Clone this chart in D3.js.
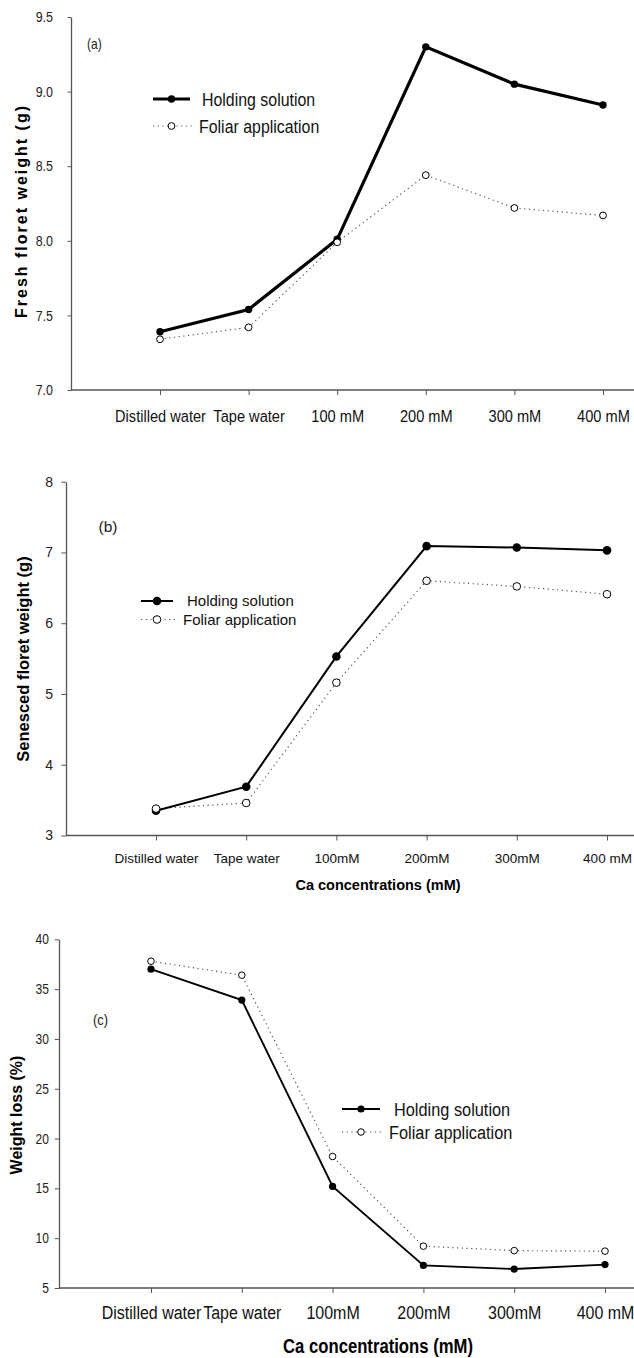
<!DOCTYPE html>
<html>
<head>
<meta charset="utf-8">
<script src="https://cdn.jsdelivr.net/npm/d3@7"></script>
<style>
  body { margin: 0; background: #fff; }
  svg { display: block; }
</style>
</head>
<body>
<div id="chart"></div>
<script>
// data
var categories = ['dw', 'tw', '100', '200', '300', '400'];
var labels_a = ['Distilled water', 'Tape water', '100 mM', '200 mM', '300 mM', '400 mM'];
var labels_bc = ['Distilled water', 'Tape water', '100mM', '200mM', '300mM', '400 mM'];

var fresh_holding = [7.39, 7.54, 8.01, 9.30, 9.05, 8.91];
var fresh_foliar = [7.34, 7.42, 7.99, 8.44, 8.22, 8.17];
var fresh_ticks = [7.0, 7.5, 8.0, 8.5, 9.0, 9.5];

var senesced_holding = [3.35, 3.69, 5.53, 7.09, 7.07, 7.03];
var senesced_foliar = [3.38, 3.46, 5.16, 6.60, 6.52, 6.41];
var senesced_ticks = [3, 4, 5, 6, 7, 8];

var loss_holding = [37.0, 33.9, 15.2, 7.27, 6.9, 7.35];
var loss_foliar = [37.8, 36.4, 18.2, 9.2, 8.75, 8.7];
var loss_ticks = [5, 10, 15, 20, 25, 30, 35, 40];

var series_names = ['Holding solution', 'Foliar application'];

var W = 634, H = 1358;
var FONT = '"Liberation Sans", Arial, sans-serif';
var NARROW = 0.86;  // horizontal squeeze to mimic Arial Narrow

var svg = d3.select('#chart').append('svg')
    .attr('width', W).attr('height', H)
    .style('font-family', FONT);

// squeeze a text horizontally around its own anchor
function squeeze(sel, s) {
    if (s === 1) return;
    sel.each(function() {
        var t = d3.select(this);
        var x = +t.attr('x') || 0;
        t.attr('x', x / s).attr('transform', `scale(${s},1)`);
    });
}

function label(g, x, y, txt, size, s, opts) {
    opts = opts || {};
    var t = g.append('g').attr('transform', `translate(${x},${y})`)
        .append('text')
        .attr('text-anchor', opts.anchor || 'start')
        .attr('dy', opts.dy || 0)
        .style('font-size', size + 'px')
        .style('font-weight', opts.bold ? 'bold' : 'normal')
        .attr('fill', opts.fill || '#111')
        .text(txt);
    if (s !== 1) t.attr('transform', `scale(${s},1)`);
    return t;
}

function drawPanel(p) {
    var g = svg.append('g');
    var x = d3.scalePoint().domain(categories).range([p.xFirst, p.xLast]);
    var y = d3.scaleLinear().domain(p.yDomain).range([p.yBot, p.yTop]);

    // y axis
    var ya = g.append('g')
        .attr('transform', `translate(${p.left},0)`)
        .call(d3.axisLeft(y).tickValues(p.ticks).tickFormat(p.fmt).tickSize(p.yTick).tickSizeOuter(0));
    ya.select('.domain').attr('stroke', '#555').attr('stroke-width', 1.3);
    ya.selectAll('.tick line').attr('stroke', '#555');
    ya.selectAll('.tick text')
        .attr('fill', '#222')
        .attr('x', -p.yLabelGap)
        .style('font-family', FONT)
        .style('font-size', p.tickSize + 'px')
        .call(squeeze, p.tickS);

    // x axis
    var xa = g.append('g')
        .attr('transform', `translate(0,${p.yBot})`)
        .call(d3.axisBottom(x).tickFormat((d, i) => p.xlabels[i]).tickSize(5).tickSizeOuter(0));
    xa.select('.domain').remove();
    xa.append('line')
        .attr('x1', p.left).attr('x2', W)
        .attr('stroke', '#555').attr('stroke-width', 1.3);
    xa.selectAll('.tick line').attr('stroke', '#555');
    xa.selectAll('.tick text')
        .attr('fill', '#111')
        .attr('y', p.xLabelY).attr('dy', 0)
        .style('font-family', FONT)
        .style('font-size', p.xSize + 'px')
        .call(squeeze, p.xS);

    var line = d3.line().x((d, i) => x(categories[i])).y(d => y(d));

    // foliar (dotted, open circles)
    g.append('path').datum(p.foliar)
        .attr('d', line)
        .attr('fill', 'none')
        .attr('stroke', '#555')
        .attr('stroke-width', 1.2)
        .attr('stroke-dasharray', '1.2,3.5');
    // holding (solid, filled)
    g.append('path').datum(p.holding)
        .attr('d', line)
        .attr('fill', 'none')
        .attr('stroke', '#000')
        .attr('stroke-width', p.lineW);

    g.selectAll('.hdot').data(p.holding).enter().append('circle')
        .attr('cx', (d, i) => x(categories[i])).attr('cy', d => y(d))
        .attr('r', p.r).attr('fill', '#000');
    g.selectAll('.fdot').data(p.foliar).enter().append('circle')
        .attr('cx', (d, i) => x(categories[i])).attr('cy', d => y(d))
        .attr('r', p.rOpen).attr('fill', '#fff')
        .attr('stroke', '#000').attr('stroke-width', 1);

    // panel letter
    label(g, p.tag[0], p.tag[1], p.tagText, p.tagSize, p.tagS, {fill: '#222'});

    // legend
    var lg = g.append('g').attr('transform', `translate(${p.leg[0]},${p.leg[1]})`);
    lg.append('line').attr('x1', 0).attr('x2', p.legLen).attr('y1', 0).attr('y2', 0)
        .attr('stroke', '#000').attr('stroke-width', p.lineW);
    lg.append('circle').attr('cx', p.legLen / 2).attr('cy', 0).attr('r', p.r).attr('fill', '#000');
    lg.append('line').attr('x1', 0).attr('x2', p.legLen + 4).attr('y1', p.legGap).attr('y2', p.legGap)
        .attr('stroke', '#555').attr('stroke-width', 1.2).attr('stroke-dasharray', '1.2,3.5');
    lg.append('circle').attr('cx', p.legLen / 2).attr('cy', p.legGap).attr('r', p.rOpen)
        .attr('fill', '#fff').attr('stroke', '#000');
    series_names.forEach(function(name, i) {
        label(lg, p.legText[i], i * p.legGap, name, p.legSize, p.legS, {dy: '0.36em'});
    });

    // y title
    g.append('text')
        .attr('transform', `translate(${p.yTitle[0]},${p.yTitle[1]}) rotate(-90)`)
        .attr('text-anchor', 'middle')
        .style('font-size', p.yTitleSize + 'px')
        .style('font-weight', 'bold')
        .style('letter-spacing', p.yTitleSpacing + 'px')
        .attr('fill', '#000')
        .text(p.yTitleText);

    if (p.xTitleText) {
        label(g, p.xTitle[0], p.xTitle[1], p.xTitleText, p.xTitleSize, p.xTitleS,
            {anchor: 'middle', bold: true, fill: '#000'});
    }
}

drawPanel({
    left: 71, yTop: 17, yBot: 390, yDomain: [7.0, 9.5], xFirst: 160, xLast: 603,
    ticks: fresh_ticks, fmt: d3.format('.1f'), tickSize: 14.5, tickS: NARROW, yTick: 3.5, yLabelGap: 18,
    xlabels: labels_a, xSize: 17, xS: NARROW, xLabelY: 32,
    holding: fresh_holding, foliar: fresh_foliar, lineW: 3.2, r: 3.7, rOpen: 3.4,
    tag: [87, 49], tagText: '(a)', tagSize: 14, tagS: NARROW,
    leg: [153, 99], legLen: 37, legGap: 27, legText: [49, 46], legSize: 18.5, legS: NARROW,
    yTitle: [27, 211], yTitleText: 'Fresh floret weight (g)',
    yTitleSize: 16, yTitleSpacing: 2
});

drawPanel({
    left: 66, yTop: 481.7, yBot: 835.5, yDomain: [3, 8], xFirst: 156, xLast: 607,
    ticks: senesced_ticks, fmt: d3.format('d'), tickSize: 14, tickS: 1, yTick: 4.7, yLabelGap: 13,
    xlabels: labels_bc, xSize: 13.5, xS: 1, xLabelY: 27.5,
    holding: senesced_holding, foliar: senesced_foliar, lineW: 2, r: 4.3, rOpen: 3.8,
    tag: [98.5, 532], tagText: '(b)', tagSize: 15.5, tagS: 1,
    leg: [141, 601], legLen: 32, legGap: 18.5, legText: [46, 42], legSize: 15, legS: 1,
    yTitle: [29, 659], yTitleText: 'Senesced floret weight (g)',
    yTitleSize: 16.5, yTitleSpacing: 0,
    xTitle: [378, 890], xTitleText: 'Ca concentrations (mM)', xTitleSize: 14.5, xTitleS: 1
});

drawPanel({
    left: 59, yTop: 939.3, yBot: 1288, yDomain: [5, 40], xFirst: 151, xLast: 605,
    ticks: loss_ticks, fmt: d3.format('d'), tickSize: 14, tickS: NARROW, yTick: 4.3, yLabelGap: 10,
    xlabels: labels_bc, xSize: 18.6, xS: NARROW, xLabelY: 31,
    holding: loss_holding, foliar: loss_foliar, lineW: 1.9, r: 3.6, rOpen: 3.3,
    tag: [93, 1025], tagText: '(c)', tagSize: 15, tagS: NARROW,
    leg: [342, 1109], legLen: 38, legGap: 23, legText: [52, 47], legSize: 19, legS: NARROW,
    yTitle: [22, 1115], yTitleText: 'Weight loss (%)',
    yTitleSize: 16, yTitleSpacing: 0,
    xTitle: [378, 1353], xTitleText: 'Ca concentrations (mM)', xTitleSize: 19.4, xTitleS: NARROW
});
</script>
</body>
</html>
